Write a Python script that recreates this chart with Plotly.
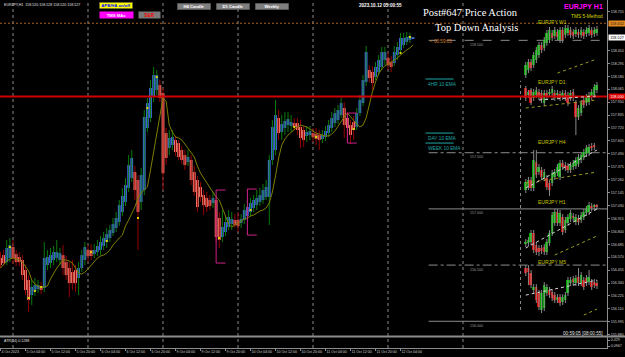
import plotly.graph_objects as go

# ---------------- main EURJPY H1 data (bar index 0 = 4 Oct 20:00) ----------------
bars = list(range(133))
opens = [
156.563,156.589,156.527,156.563,156.661,156.598,156.572,156.545,156.456,156.367,
156.233,156.269,156.287,156.314,156.296,156.500,156.518,156.545,156.563,156.545,
156.589,156.527,156.474,156.438,156.456,156.385,156.474,156.545,156.634,156.634,
156.598,156.616,156.634,156.670,156.705,156.741,156.785,156.830,156.883,156.972,
157.061,157.186,157.275,157.328,157.257,157.061,157.168,157.720,157.809,157.996,
158.058,158.102,158.031,157.675,157.542,157.568,157.613,157.586,157.524,157.479,
157.417,157.435,157.328,157.257,157.195,157.123,157.097,157.079,157.052,157.079,
156.919,156.750,156.794,156.839,156.865,156.901,156.901,156.874,156.901,156.937,
156.972,157.008,157.034,157.061,157.079,157.106,157.106,157.435,157.524,157.809,
157.684,157.720,157.746,157.738,157.764,157.764,157.729,157.702,157.649,157.657,
157.675,157.666,157.657,157.622,157.640,157.675,157.720,157.764,157.791,157.835,
157.898,157.809,157.746,157.773,157.729,157.853,157.942,158.129,158.236,158.218,
158.174,158.218,158.263,158.325,158.343,158.307,158.298,158.369,158.414,158.458,
158.485,158.503,158.520]
highs = [
156.616,156.634,156.723,156.741,156.723,156.634,156.616,156.589,156.500,156.411,
156.367,156.385,156.367,156.349,156.705,156.634,156.652,156.670,156.723,156.652,
156.678,156.581,156.527,156.545,156.500,156.527,156.634,156.705,156.678,156.687,
156.687,156.723,156.759,156.794,156.830,156.856,156.919,156.972,157.079,157.186,
157.275,157.479,157.524,157.382,157.301,157.364,157.880,157.987,158.147,158.263,
158.236,158.147,158.076,157.720,157.702,157.702,157.649,157.613,157.560,157.524,
157.524,157.479,157.382,157.293,157.239,157.168,157.150,157.123,157.150,157.115,
156.972,156.990,156.945,156.990,156.972,156.954,156.972,156.954,157.043,157.079,
157.097,157.123,157.168,157.186,157.221,157.257,157.479,157.791,157.969,157.880,
157.835,157.862,157.862,157.835,157.809,157.809,157.791,157.738,157.738,157.738,
157.720,157.720,157.702,157.702,157.738,157.791,157.862,157.898,157.924,157.987,
157.951,157.862,157.791,157.827,157.898,158.013,158.191,158.450,158.280,158.272,
158.307,158.369,158.441,158.441,158.396,158.361,158.450,158.485,158.565,158.565,
158.574,158.565,158.528]
lows = [
156.474,156.492,156.500,156.527,156.509,156.492,156.492,156.367,156.233,156.082,
156.144,156.225,156.251,156.242,156.260,156.456,156.474,156.500,156.527,156.500,
156.411,156.367,156.216,156.278,156.260,156.233,156.438,156.500,156.527,156.545,
156.563,156.581,156.589,156.634,156.652,156.705,156.759,156.794,156.848,156.937,
157.026,157.150,157.239,157.079,156.634,156.990,157.123,157.684,157.773,157.951,
158.013,157.951,157.168,157.390,157.479,157.524,157.471,157.435,157.399,157.346,
157.382,157.212,157.115,156.972,157.061,156.945,156.972,156.990,157.008,156.705,
156.652,156.705,156.759,156.812,156.812,156.830,156.794,156.830,156.865,156.901,
156.937,156.972,156.990,157.026,157.043,157.079,156.856,157.390,157.479,157.613,
157.613,157.657,157.684,157.684,157.702,157.657,157.542,157.551,157.595,157.613,
157.595,157.568,157.524,157.586,157.604,157.640,157.684,157.729,157.755,157.809,
157.631,157.613,157.577,157.613,157.702,157.827,157.916,158.094,158.129,158.058,
158.147,158.191,158.236,158.280,158.236,158.218,158.272,158.325,158.378,158.432,
158.458,158.476,158.520]
closes = [
156.500,156.518,156.652,156.678,156.563,156.527,156.527,156.411,156.278,156.189,
156.305,156.322,156.322,156.278,156.563,156.572,156.589,156.616,156.616,156.607,
156.474,156.411,156.340,156.340,156.340,156.474,156.589,156.661,156.581,156.581,
156.634,156.670,156.705,156.741,156.776,156.812,156.865,156.919,157.034,157.115,
157.212,157.390,157.453,157.168,156.972,157.301,157.818,157.942,158.076,158.191,
158.191,157.987,157.319,157.453,157.631,157.640,157.506,157.462,157.435,157.390,
157.462,157.257,157.150,157.017,157.106,157.034,157.017,157.026,157.097,156.750,
156.723,156.839,156.883,156.928,156.910,156.856,156.848,156.910,156.990,157.017,
157.052,157.079,157.097,157.123,157.168,157.195,157.435,157.729,157.835,157.675,
157.755,157.782,157.800,157.773,157.729,157.702,157.631,157.613,157.684,157.693,
157.640,157.622,157.613,157.657,157.693,157.746,157.809,157.853,157.880,157.942,
157.746,157.720,157.657,157.702,157.853,157.969,158.147,158.396,158.165,158.120,
158.263,158.325,158.396,158.396,158.280,158.263,158.396,158.441,158.521,158.521,
158.530,158.539,158.527]
ema10 = [
156.474,156.509,156.536,156.554,156.563,156.554,156.545,156.527,156.483,156.447,
156.367,156.331,156.314,156.305,156.305,156.314,156.376,156.429,156.474,156.509,
156.545,156.545,156.536,156.518,156.474,156.429,156.420,156.438,156.465,156.500,
156.536,156.563,156.581,156.589,156.607,156.634,156.678,156.714,156.741,156.767,
156.848,156.901,156.963,157.017,157.097,157.141,157.168,157.195,157.346,157.506,
157.675,157.835,157.987,157.960,157.746,157.684,157.640,157.631,157.613,157.577,
157.542,157.506,157.462,157.382,157.319,157.275,157.230,157.186,157.141,157.106,
157.079,157.008,156.919,156.865,156.839,156.856,156.874,156.892,156.910,156.919,
156.937,156.945,156.963,156.981,156.990,157.008,157.052,157.150,157.293,157.453,
157.568,157.622,157.657,157.684,157.711,157.729,157.746,157.738,157.729,157.711,
157.693,157.675,157.666,157.657,157.649,157.649,157.666,157.693,157.738,157.782,
157.818,157.853,157.818,157.791,157.755,157.729,157.746,157.809,157.933,158.040,
158.129,158.200,158.245,158.272,158.289,158.307,158.325,158.343,158.369,158.396,
158.414,158.432,158.458]

# small signal dots on the chart
dot_bars = [3, 9, 11, 13, 29, 34, 44, 47, 50, 70, 80, 94, 101, 113, 128, 131]
dot_prices = [156.661, 156.207, 156.269, 156.305, 156.616, 156.714, 156.919, 157.898, 158.174,
              156.741, 156.990, 157.729, 157.640, 157.711, 158.387, 158.530]

tick_bars = [0, 8, 16, 24, 32, 40, 48, 56, 64, 72, 80, 88, 96, 104, 112, 120, 128]
tick_text = ["4 Oct 2023", "5 Oct 04:00", "5 Oct 12:00", "5 Oct 20:00", "6 Oct 04:00",
             "6 Oct 12:00", "6 Oct 20:00", "9 Oct 04:00", "9 Oct 12:00", "9 Oct 20:00",
             "10 Oct 04:00", "10 Oct 12:00", "10 Oct 20:00", "11 Oct 04:00", "11 Oct 12:00",
             "11 Oct 20:00", "12 Oct 04:00"]
day_sep_bars = [4, 28, 52, 76, 100, 124, 148]

price_ticks = [158.755, 158.410, 158.295, 158.180, 158.065, 157.950,
               157.835, 157.720, 157.605, 157.490, 157.375, 157.260, 157.145, 157.030,
               156.915, 156.800, 156.685, 156.570, 156.455, 156.340, 156.225, 156.110,
               155.995, 155.880]
price_tick_text = ["158.755", "158.410", "158.295", "158.180", "158.065",
                   "157.950", "157.835", "157.720", "157.605", "157.490", "157.375", "157.260",
                   "157.145", "157.030", "156.915", "156.800", "156.685", "156.570", "156.455",
                   "156.340", "156.225", "156.110", "155.995", "155.880"]
atr_ticks = [0.429, 0.0967]
atr_tick_text = ["0.429", "0.0967"]

level_prices = [158.5, 157.5, 157.0, 156.5, 156.0]
level_labels = ["158.500", "157.500", "157.000", "156.500", "156.000"]
level_dash = ["dash", "dashdot", "solid", "dashdot", "solid"]
level_start_bar = 137
level_label_bar = 149.5
red_level = 158.000
orange_level = 158.652
last_price = 158.527

ema_level_prices = [158.156, 157.675, 157.586]
ema_level_names = ["4HR 10 EMA", "DAY 10 EMA", "WEEK 10 EMA"]

bracket_start = [69, 79, 111]
bracket_end = [72, 82, 114]
bracket_top = [157.168, 157.177, 157.853]
bracket_bot = [156.518, 156.767, 157.586]

# ---------------- mini top-down charts (drawn in chart price coordinates) ----------------
w1_open = [158.191,158.236,158.307,158.280,158.325,158.369,158.458,158.432,158.476,158.503,158.565,158.539,158.574,158.503,158.592,158.547,158.565,158.592,158.574,158.556,158.574,158.547,158.574,158.556,158.565,158.592,158.556,158.565]
w1_high = [158.307,158.334,158.334,158.396,158.441,158.485,158.485,158.530,158.592,158.619,158.592,158.619,158.601,158.619,158.619,158.637,158.637,158.619,158.601,158.619,158.601,158.619,158.601,158.619,158.637,158.619,158.619,158.628]
w1_low = [158.165,158.209,158.227,158.254,158.298,158.343,158.387,158.405,158.450,158.476,158.494,158.512,158.503,158.476,158.476,158.521,158.539,158.521,158.512,158.530,158.521,158.521,158.512,158.530,158.539,158.521,158.530,158.539]
w1_close = [158.280,158.307,158.254,158.369,158.414,158.458,158.414,158.503,158.565,158.592,158.521,158.592,158.530,158.592,158.503,158.610,158.610,158.547,158.539,158.592,158.547,158.592,158.539,158.592,158.610,158.547,158.592,158.601]

d1_open = [158.076,158.013,158.058,157.987,158.013,158.040,158.031,157.942,158.031,158.022,158.031,158.031,158.013,158.022,157.996,158.031,158.013,157.987,158.040,157.951,157.818,157.853,157.969,157.942,157.951,157.996,158.013,158.058]
d1_high = [158.094,158.058,158.076,158.067,158.085,158.067,158.058,158.058,158.058,158.067,158.094,158.058,158.058,158.049,158.058,158.058,158.040,158.058,158.067,157.969,157.924,157.969,157.996,158.022,158.040,158.067,158.111,158.129]
d1_low = [157.960,157.987,157.924,157.960,157.987,157.969,157.942,157.916,157.969,157.996,158.005,157.960,157.987,157.960,157.969,157.960,157.916,157.960,157.960,157.657,157.791,157.827,157.898,157.916,157.924,157.969,157.987,158.031]
d1_close = [157.987,158.040,157.942,158.040,158.058,157.996,157.969,158.031,157.996,158.040,158.067,157.987,158.031,157.987,158.031,157.987,157.942,158.031,157.987,157.818,157.898,157.942,157.924,157.996,158.013,158.040,158.085,158.102]

h4_open = [157.168,157.195,157.257,157.186,157.417,157.328,157.346,157.275,157.275,157.230,157.230,157.284,157.319,157.284,157.408,157.390,157.382,157.346,157.373,157.382,157.399,157.435,157.462,157.488,157.497,157.560,157.568]
h4_high = [157.266,157.284,157.284,157.524,157.524,157.399,157.373,157.355,157.301,157.257,157.346,157.355,157.399,157.435,157.435,157.417,157.408,157.417,157.435,157.462,157.488,157.506,157.533,157.568,157.577,157.586,157.586]
h4_low = [157.141,157.168,157.159,157.159,157.275,157.301,157.257,157.248,157.168,157.115,157.204,157.257,157.293,157.257,157.346,157.337,157.319,157.319,157.346,157.355,157.373,157.408,157.435,157.462,157.471,157.515,157.524]
h4_close = [157.239,157.257,157.186,157.435,157.301,157.373,157.284,157.328,157.195,157.168,157.319,157.328,157.373,157.408,157.373,157.364,157.346,157.390,157.408,157.435,157.462,157.479,157.506,157.542,157.551,157.542,157.551]

h1_open = [156.687,156.696,156.705,156.785,156.678,156.652,156.652,156.661,156.616,156.696,156.785,156.874,156.972,156.874,156.928,156.812,156.874,156.910,156.937,156.883,156.919,156.901,156.928,156.963,156.972,157.026,157.017,157.026]
h1_high = [156.732,156.750,156.812,156.812,156.705,156.678,156.678,156.687,156.732,156.812,156.972,156.999,156.999,156.990,156.954,156.928,156.954,156.990,156.963,156.954,156.945,156.972,156.999,157.026,157.061,157.052,157.043,157.043]
h1_low = [156.661,156.670,156.678,156.607,156.589,156.581,156.598,156.589,156.589,156.670,156.759,156.848,156.848,156.848,156.767,156.785,156.848,156.883,156.892,156.856,156.856,156.874,156.901,156.937,156.945,156.981,156.990,156.999]
h1_close = [156.705,156.723,156.785,156.634,156.616,156.616,156.625,156.616,156.705,156.785,156.945,156.972,156.874,156.963,156.794,156.901,156.928,156.963,156.919,156.928,156.883,156.945,156.972,156.999,157.034,157.008,157.026,157.017]

m5_open = [156.474,156.474,156.429,156.278,156.305,156.251,156.100,156.118,156.251,156.278,156.260,156.233,156.189,156.216,156.171,156.189,156.251,156.340,156.376,156.340,156.394,156.340,156.367,156.385,156.349,156.349,156.349,156.340]
m5_high = [156.500,156.500,156.456,156.331,156.331,156.278,156.278,156.349,156.331,156.305,156.287,156.260,156.242,156.242,156.242,156.260,156.394,156.394,156.403,156.411,156.474,156.438,156.394,156.411,156.456,156.376,156.376,156.367]
m5_low = [156.403,156.322,156.296,156.251,156.162,156.100,156.073,156.091,156.225,156.207,156.180,156.162,156.162,156.136,156.144,156.162,156.225,156.314,156.322,156.314,156.314,156.314,156.278,156.314,156.322,156.278,156.296,156.287]
m5_close = [156.429,156.438,156.322,156.305,156.189,156.127,156.251,156.322,156.305,156.233,156.207,156.189,156.216,156.162,156.216,156.233,156.367,156.367,156.349,156.385,156.340,156.411,156.305,156.340,156.394,156.305,156.322,156.314]

mini_names = ["EURJPY W1", "EURJPY D1", "EURJPY H4", "EURJPY H1", "EURJPY M5"]
mini_label_price = [158.663, 158.129, 157.595, 157.061, 156.527]
mini_sets = [(w1_open, w1_high, w1_low, w1_close), (d1_open, d1_high, d1_low, d1_close),
             (h4_open, h4_high, h4_low, h4_close), (h1_open, h1_high, h1_low, h1_close),
             (m5_open, m5_high, m5_low, m5_close)]
# trend lines: (k0, p0, k1, p1, kind)
mini_lines = [(12, 158.209, 27, 158.334, "olive"),
              (0, 157.898, 27, 157.969, "olive"), (5, 157.969, 27, 158.005, "white"),
              (0, 157.230, 27, 157.328, "olive"), (0, 157.186, 27, 157.524, "white"),
              (11, 156.590, 27, 156.759, "olive"), (0, 156.652, 27, 156.999, "white"),
              (22, 156.055, 27, 156.109, "olive"), (0, 156.233, 27, 156.367, "white")]
mini_sep_top, mini_sep_bot = 158.14, 156.10

# ---------------- styling ----------------
SANS = "Liberation Sans, Arial, sans-serif"
SERIF = "Liberation Serif, Times New Roman, serif"
UP_BODY, DN_BODY = "#4169e1", "#fa8072"
UP_WICK, DN_WICK = "#0b7a0b", "#960000"
W, H = 625, 357
PW, PH = 607, 348          # plot area in px (right axis 18px, bottom 9px)


def px(x):
    return x / PW


def py(y):
    return (PH - y) / PH


def wick_trace(xs, o, h, l, c, up, color, xaxis="x"):
    X, Y = [], []
    for x_, o_, h_, l_, c_ in zip(xs, o, h, l, c):
        if (c_ >= o_) == up:
            X += [x_, x_, None]
            Y += [l_, h_, None]
    return go.Scatter(x=X, y=Y, mode="lines", line=dict(color=color, width=1),
                      xaxis=xaxis, yaxis="y", hoverinfo="skip")


fig = go.Figure()
fig.add_trace(wick_trace(bars, opens, highs, lows, closes, True, UP_WICK))
fig.add_trace(wick_trace(bars, opens, highs, lows, closes, False, DN_WICK))
fig.add_trace(go.Bar(x=bars, y=[c - o for o, c in zip(opens, closes)], base=opens, width=0.9,
                     marker=dict(color=[UP_BODY if c >= o else DN_BODY for o, c in zip(opens, closes)],
                                 line=dict(width=0)), hoverinfo="skip"))
fig.add_trace(go.Scatter(x=bars, y=ema10, mode="lines", line=dict(color="#7e7e00", width=1),
                         hoverinfo="skip"))
fig.add_trace(go.Scatter(x=dot_bars, y=dot_prices, mode="markers",
                         marker=dict(symbol="square", size=2, color="#d8d800", line=dict(width=0)),
                         hoverinfo="skip"))
fig.add_trace(go.Scatter(x=[], y=[], xaxis="x", yaxis="y2"))

for (o, h, l, c) in mini_sets:
    kk = list(range(len(o)))
    X, Y = [], []
    for k, h_, l_ in zip(kk, h, l):
        X += [k, k, None]
        Y += [l_, h_, None]
    fig.add_trace(go.Scatter(x=X, y=Y, mode="lines", line=dict(color="#8a8a8a", width=1),
                             xaxis="x2", yaxis="y", hoverinfo="skip"))
    fig.add_trace(go.Bar(x=kk, y=[c_ - o_ for o_, c_ in zip(o, c)], base=o, width=0.7,
                         marker=dict(color=["#00d000" if c_ >= o_ else "#ff1010" for o_, c_ in zip(o, c)],
                                     line=dict(width=0)),
                         xaxis="x2", yaxis="y", hoverinfo="skip"))

shapes = []
for b in day_sep_bars:
    shapes.append(dict(type="line", xref="x", yref="paper", x0=b, x1=b, y0=0, y1=1, layer="below",
                       line=dict(color="#8a8a8a", width=1, dash="dot")))
shapes.append(dict(type="line", xref="x2", yref="y", x0=-2, x1=-2, y0=mini_sep_bot, y1=mini_sep_top,
                   layer="below", line=dict(color="#8a8a8a", width=1, dash="dot")))
for p, d in zip(level_prices, level_dash):
    shapes.append(dict(type="line", xref="x", yref="y", x0=level_start_bar, x1=194.1, y0=p, y1=p,
                       layer="below", line=dict(color="#8c8c8c", width=1, dash=d)))
shapes.append(dict(type="line", xref="paper", yref="y", x0=0, x1=1, y0=orange_level, y1=orange_level,
                   line=dict(color="#a8641c", width=1, dash="2px,2px")))
shapes.append(dict(type="line", xref="paper", yref="y", x0=0, x1=1, y0=red_level, y1=red_level,
                   line=dict(color="#d00000", width=2)))
for p in ema_level_prices:
    shapes.append(dict(type="line", xref="x", yref="y", x0=136, x1=145, y0=p, y1=p,
                       line=dict(color="#1fa6a6", width=1)))
for b0, b1, t, bt in zip(bracket_start, bracket_end, bracket_top, bracket_bot):
    for (xa, ya, xb, yb) in [(b0, t, b1, t), (b0, bt, b1, bt), (b0, t, b0, bt)]:
        shapes.append(dict(type="line", xref="x", yref="y", x0=xa, x1=xb, y0=ya, y1=yb,
                           line=dict(color="#d0208a", width=1)))
for (k0, p0, k1, p1, kind) in mini_lines:
    shapes.append(dict(type="line", xref="x2", yref="y", x0=k0, x1=k1, y0=p0, y1=p1,
                       line=dict(color="#9a9a20" if kind == "olive" else "#d8d8d8", width=1, dash="dot")))
# pane separator
shapes.append(dict(type="line", xref="paper", yref="paper", x0=0, x1=W / PW, y0=py(336.5), y1=py(336.5),
                   line=dict(color="#8c8c8c", width=2)))

ann = []


def A(text, x, y, size=4, color="#ffffff", xanchor="left", family=SANS, **kw):
    d = dict(text=text, x=px(x), y=py(y), xref="paper", yref="paper", showarrow=False,
             xanchor=xanchor, yanchor="middle", font=dict(size=size, color=color, family=family))
    d.update(kw)
    ann.append(d)


A("EURJPY,H1  158.520 158.528 158.520 158.527", 2, 4.5, size=3.6, color="#e0e0e0")
A("<b>APB/HA on/off</b>", 116, 5.5, size=4.2, color="#0000ff", xanchor="center",
  bgcolor="#ffff00", width=33, height=6, borderpad=0, bordercolor="#303030", borderwidth=0.5)
A("<b>TMS MAs</b>", 116, 15, size=4.2, color="#ffffff", xanchor="center",
  bgcolor="#ff00ff", width=33, height=6, borderpad=0)
A("<b>S&R</b>", 149, 15, size=4.6, color="#ff0000", xanchor="center",
  bgcolor="#7a7a7a", width=21, height=6, borderpad=0)
for t, cx in [("H4 Candle", 194), ("D1 Candle", 232.5), ("Weekly", 272)]:
    A("<b>" + t + "</b>", cx, 6, size=4.2, color="#ffffff", xanchor="center",
      bgcolor="#7f7f7f", width=33, height=6, borderpad=0, bordercolor="#4a4a4a", borderwidth=0.5)
A("<b>2023.10.12 05:00:55</b>", 357, 5.5, size=4.6, color="#ffffff")
A("Post#647 Price Action", 470.5, 12.5, size=10.5, color="#ffffff", xanchor="center", family=SERIF)
A("Top Down Analysis", 476, 27.5, size=10.5, color="#ffffff", xanchor="center", family=SERIF)
A("<b>EURJPY H1</b>", 605, 7, size=7, color="#ff00ff", xanchor="right")
A("TMS 5-Method", 605, 16, size=4.8, color="#d8d800", xanchor="right")
A("< 00:59:05", 428, 41, size=4.6, color="#d9822b")
A("00:59:05 [08:00:55]", 605, 333, size=4.6, color="#e0e0e0", xanchor="right")
A("ATR(14) 0.1288", 2, 340.5, size=3.6, color="#e0e0e0")

for t, p in zip(ema_level_names, ema_level_prices):
    ann.append(dict(text=t, x=136.3, y=p, xref="x", yref="y", showarrow=False, xanchor="left",
                    yanchor="top", yshift=-0.5, font=dict(size=4.8, color="#1fa6a6", family=SANS)))
for t, p in zip(level_labels, level_prices):
    ann.append(dict(text=t, x=level_label_bar, y=p, xref="x", yref="y", showarrow=False, xanchor="left",
                    yanchor="top", yshift=-0.5, font=dict(size=3.6, color="#9a9a9a", family=SANS)))
for t, p in zip(mini_names, mini_label_price):
    ann.append(dict(text=t, x=10, y=p, xref="x2", yref="y", showarrow=False, xanchor="center",
                    yanchor="middle", font=dict(size=5, color="#c8c800", family=SANS)))
# price boxes on the right axis
for val, bg, fc in [(orange_level, "#e58a1f", "#202020"), (last_price, "#ffffff", "#000000"),
                    (red_level, "#e00000", "#ffffff")]:
    ann.append(dict(text="%.3f" % val, x=1.0, y=val, xref="paper", yref="y", showarrow=False,
                    xanchor="left", yanchor="middle", xshift=1, bgcolor=bg, width=16, height=5,
                    borderpad=0, font=dict(size=3.8, color=fc, family=SANS)))

axis_font = dict(size=3.6, color="#d0d0d0", family=SANS)
fig.update_layout(
    width=W, height=H, margin=dict(l=0, r=W - PW, t=0, b=H - PH),
    paper_bgcolor="#000000", plot_bgcolor="rgba(0,0,0,0)", showlegend=False, barmode="overlay",
    xaxis=dict(domain=[0, 1], range=[-0.16, 194.08], anchor="y2", tickmode="array",
               tickvals=tick_bars, ticktext=tick_text, ticklabelposition="outside right",
               tickangle=0, tickfont=axis_font, showgrid=False, zeroline=False, showline=True,
               linecolor="#8c8c8c", ticks="outside", ticklen=2, tickcolor="#8c8c8c"),
    yaxis=dict(domain=[(PH - 336) / PH, 1], range=[155.869, 158.859], side="right", anchor="x",
               tickmode="array", tickvals=price_ticks, ticktext=price_tick_text, tickfont=axis_font,
               showgrid=False, zeroline=False, showline=True, linecolor="#8c8c8c",
               ticks="outside", ticklen=2, tickcolor="#8c8c8c"),
    yaxis2=dict(domain=[0, 11 / PH], range=[-0.014, 0.595], side="right", anchor="x",
                tickmode="array", tickvals=atr_ticks, ticktext=atr_tick_text, tickfont=axis_font,
                showgrid=False, zeroline=False, showline=True, linecolor="#8c8c8c",
                ticks="outside", ticklen=2, tickcolor="#8c8c8c"),
    xaxis2=dict(domain=[519.2 / PW, 598.3 / PW], range=[-2.5, 27.5], anchor="y", visible=False),
    shapes=shapes, annotations=ann,
)
fig.write_html("out.html")
